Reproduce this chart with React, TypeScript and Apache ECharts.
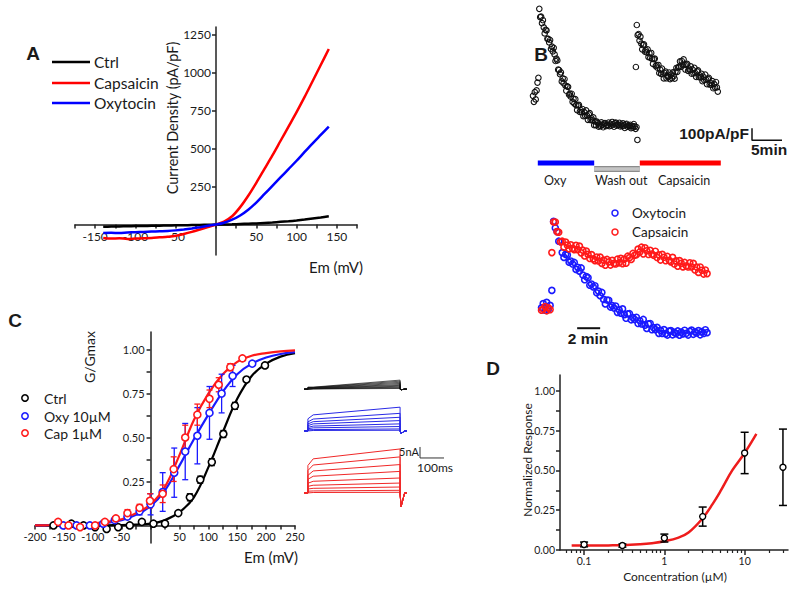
import React, { useEffect, useRef } from "react";
import * as echarts from "echarts";

// ---------------- Panel A : current density vs Em ----------------
const emA = [-140,-130,-120,-110,-100,-90,-80,-70,-60,-50,-40,-30,-20,-10,0,10,20,30,40,50,60,70,80,90,100,110,120,130,140];
const ctrlA = [-14,-13,-12,-11,-10,-9,-8,-7,-6,-5,-4,-3,-2,-1,0,1,2,4,6,8,11,14,18,22,27,33,40,47,55];
const capA = [-88,-92,-90,-94,-92,-90,-88,-84,-80,-74,-62,-48,-32,-16,0,20,55,115,190,275,365,455,550,645,740,840,945,1050,1155];
const oxyA = [-55,-54,-55,-52,-50,-48,-46,-44,-42,-38,-32,-25,-17,-8,0,12,32,60,98,145,200,255,310,365,420,478,535,590,645];
const aXTicks = [-175,-150,-125,-100,-75,-50,-25,0,25,50,75,100,125,150,175];
const aXLabels = [-150,-100,-50,50,100,150];
const aYTicks = [250,500,750,1000,1250];
const aYLabels = [250,500,750,1000,1250];

// ---------------- Panel B (top) : time course, black circles ----------------
const topT0Oxy = 0.5;
const topT0Cap = 17.65;
const topDt = 0.15;
const oxyTopV = [410,360,440,380,455,520,560,
  1135,1065,1070,1015,1040,980,930,960,955,885,885,855,875,800,820,780,810,755,700,720,705,628,625,590,605,530,555,515,550,495,452,488,485,420,428,403,427,360,385,345,382,332,291,330,335,276,290,273,300,240,274,243,288,245,210,255,265,208,222,205,230,165,197,165,195,
  183,153,173,158,188,168,148,178,183,158,168,163,187,157,177,162,192,172,152,182,187,162,172,167,185,155,170,160,180,162,142,172,177,152,162,157,168,140,160,145,175,155,135,150,
  42];
const capTopV = [650,1000,915,925,870,903,845,797,832,838,779,790,771,797,733,763,727,767,717,676,716,720,658,666,644,667,600,628,592,637,591,555,600,611,556,576,567,604,549,586,558,605,574,553,612,642,610,648,653,697,651,700,669,713,667,629,670,676,618,636,623,655,594,628,597,643,600,567,613,622,566,580,564,593,532,568,540,587,544,507,551,560,504,518,502,532,473,508,479,525,480,445];
const oxyBar = [1.3, 10.7];
const washBar = [10.7, 18.3];
const capBar = [18.3, 31.8];
const scaleTopV = [40, 140]; // 100 pA/pF
const scaleTopT = [37, 42]; // 5 min

// ---------------- Panel B (bottom) : overlay ----------------
const botT0 = 1.0;
const botDt = 0.15;
const oxyBotV = [310,345,290,355,300,330,455,
  1030,975,945,865,860,770,730,755,750,690,700,675,688,630,647,615,642,583,544,570,561,498,508,484,494,435,449,411,438,380,342,375,373,316,328,308,325,272,293,265,301,252,223,259,261,210,228,212,231,179,202,175,213,165,138,176,179,127,145,128,147,97,122,96,128,95,83,116,120,85,105,95,117,82,107,93,123,98,83,114,124,89,109,100,120,85,111,96,127,103];
const capBotV = [290,300,320,285,310,295,770,
  1025,1025,945,940,860,865,815,858,832,801,835,805,795,830,795,824,768,790,742,783,755,721,753,718,703,733,700,732,680,707,665,713,692,666,705,680,675,715,685,722,678,715,682,740,728,713,763,748,753,799,775,815,759,810,785,754,789,758,748,781,729,752,708,755,731,702,738,706,693,730,675,701,657,703,680,651,688,659,650,685,650,680,625,650,605,650,623,591,625,595];
const scaleBotT = [4.1, 6.1]; // 2 min
const scaleBotV = 140;

// ---------------- Panel C : G/Gmax ----------------
const emFit = [-200,-175,-150,-125,-100,-75,-50,-25,0,25,50,75,100,125,150,175,200,225,250];
const ctrlFit = [0,0,0,0,0,0.001,0.002,0.005,0.01,0.03,0.075,0.16,0.33,0.53,0.72,0.85,0.92,0.96,0.98];
const oxyFit = [0.0,0.001,0.002,0.004,0.008,0.015,0.03,0.06,0.11,0.2,0.34,0.49,0.63,0.76,0.86,0.92,0.955,0.975,0.985];
const capFit = [0.0,0.001,0.003,0.006,0.012,0.02,0.035,0.07,0.12,0.22,0.4,0.6,0.75,0.86,0.93,0.965,0.98,0.99,0.995];
const ctrlEm = [-168,-137,-116,-96,-76,-56,-36,-15,5,25,48,68,86,106,126,146,166,198];
const ctrlG = [0.0,0.01,0.0,-0.01,-0.02,-0.01,0.0,0.02,0.01,0.01,0.07,0.16,0.26,0.36,0.52,0.68,0.83,0.91];
const ctrlErr = [0,0,0,0,0,0,0,0,0,0,0.01,0.02,0.02,0.02,0.02,0.02,0.01,0.01];
const oxyEm = [-151,-128,-105,-82,-62,-40,-19,0,21,41,60,81,102,123,142,176];
const oxyG = [0.0,0.0,0.0,0.01,0.03,0.05,0.08,0.12,0.19,0.30,0.42,0.51,0.64,0.75,0.85,0.92];
const oxyErr = [0,0,0,0,0.01,0.01,0.02,0.06,0.11,0.14,0.16,0.16,0.15,0.11,0.06,0.01];
const capEm = [-160,-142,-122,-96,-79,-60,-40,-19,-1,21,40,60,81,102,118,138,159];
const capG = [0.02,0.0,-0.01,0.0,0.02,0.04,0.07,0.10,0.14,0.18,0.32,0.50,0.63,0.72,0.80,0.90,0.95];
const capErr = [0,0,0,0,0,0.01,0.02,0.02,0.04,0.05,0.07,0.07,0.06,0.05,0.04,0.02,0.01];
const cXTicks = [-200,-175,-150,-125,-100,-75,-50,-25,0,25,50,75,100,125,150,175,200,225,250];
const cXLabels = [-200,-150,-100,-50,50,100,150,200,250];
const cYTicks = [0.125,0.25,0.375,0.5,0.625,0.75,0.875,1.0];
const cYLabels = [0.25,0.5,0.75,1.0];

// ---------------- Panel C inset : current traces (nA vs ms) ----------------
const traceTimes = [17, 33, 55, 417, 421, 436, 445]; // pre, onset, early, end, tail, recover, post
const blackOn = [0.9,0.8,0.7,0.6,0.5,0.4,0.3,0.2,0.15,0.1];
const blackEnd = [4.1,3.6,3.1,2.6,2.1,1.7,1.3,0.9,0.6,0.3];
const blueOn = [5.5,4.1,3.2,2.4,1.6,1.0,0.5,0.15];
const blueEarly = [7.3,5.4,4.2,3.2,2.2,1.4,0.6,0.2];
const blueEnd = [10.8,8.0,6.2,4.7,3.2,2.0,0.9,0.3];
const redOn = [12.5,10.2,8.0,6.2,4.4,3.0,1.8,0.8,0.2];
const redEarly = [15.5,12.7,10.0,7.6,5.3,3.5,2.1,0.9,0.2];
const redEnd = [20,16.4,12.9,9.8,6.8,4.5,2.7,1.2,0.3];
const tailAmp = [0.3, 1.2, 6.3]; // black, blue, red
const scaleTrT = [500, 600]; // 100 ms
const scaleTrI = [28.2, 33.2]; // 5 nA

// ---------------- Panel D : dose response ----------------
const concD = [0.1, 0.3, 1, 3, 10, 30];
const respD = [0.035, 0.028, 0.075, 0.21, 0.61, 0.52];
const errD = [0.015, 0.01, 0.025, 0.06, 0.13, 0.24];
const fitConc = [0.07,0.1,0.2,0.3,0.5,0.7,1,1.5,2,3,4,5,7,10,14];
const fitResp = [0.028,0.028,0.029,0.03,0.036,0.043,0.055,0.078,0.11,0.2,0.29,0.37,0.5,0.61,0.73];
const dMajorConc = [0.1, 1, 10];
const dMajorText = ["0.1", "1", "10"];
const dMinorConc = [0.06,0.07,0.08,0.09,0.2,0.3,0.4,0.5,0.6,0.7,0.8,0.9,2,3,4,5,6,7,8,9,20,30];
const dYTicks = [0,0.125,0.25,0.375,0.5,0.625,0.75,0.875,1.0];
const dYLabels = [0,0.25,0.5,0.75,1.0];

// ---------------- styling ----------------
const FONT = "Lato, 'Open Sans', sans-serif";
const BOLD = "'Liberation Sans', Arial, sans-serif";
const INK = "#1a1a1a";
const BLUE = "#1a1aff";
const RED = "#ff1a1a";
const axLine = { color: "#222", width: 1.5 };

// grid geometry (pixels) for the panels
const GA = { left: 75, top: 27, width: 282, height: 228 };
const GC = { left: 35, top: 332, width: 260, height: 211 };

function lab(size: number, extra: any = {}) {
  return { color: INK, fontFamily: FONT, fontSize: size, ...extra };
}

function txt(x: number, y: number, text: string, size: number, o: any = {}) {
  const align = o.align || "left";
  return {
    type: "text",
    x,
    y,
    rotation: o.rot || 0,
    z: 100,
    style: {
      text,
      fill: o.color || INK,
      fontSize: size,
      fontFamily: o.family || FONT,
      fontWeight: o.weight || "normal",
      textAlign: align,
      align,
      textVerticalAlign: "middle",
      verticalAlign: "middle",
    },
  };
}

function errBars(xi: number, yi: number, data: number[][], color: string, capW: number, lw: number) {
  return {
    type: "custom",
    xAxisIndex: xi,
    yAxisIndex: yi,
    coordinateSystem: "cartesian2d",
    data,
    encode: { x: 0, y: [1, 2] },
    z: 3,
    renderItem: (params: any, api: any) => {
      const x = api.value(0);
      const lo = api.coord([x, api.value(1)]);
      const hi = api.coord([x, api.value(2)]);
      const st = { stroke: color, lineWidth: lw };
      return {
        type: "group",
        children: [
          { type: "line", shape: { x1: lo[0], y1: lo[1], x2: hi[0], y2: hi[1] }, style: st },
          { type: "line", shape: { x1: lo[0] - capW, y1: lo[1], x2: lo[0] + capW, y2: lo[1] }, style: st },
          { type: "line", shape: { x1: hi[0] - capW, y1: hi[1], x2: hi[0] + capW, y2: hi[1] }, style: st },
        ],
      };
    },
  };
}

function pairs(xs: number[], ys: number[]) {
  return xs.map((x, i) => [x, ys[i]]);
}

function seq(t0: number, dt: number, vs: number[]) {
  return vs.map((v, i) => [t0 + i * dt, v]);
}

function lineS(xi: number, yi: number, data: any[], color: string, width: number, smooth: any = false, z = 2) {
  return {
    type: "line",
    xAxisIndex: xi,
    yAxisIndex: yi,
    data,
    symbol: "none",
    showSymbol: false,
    smooth,
    z,
    lineStyle: { color, width },
  };
}

function scat(xi: number, yi: number, data: any[], color: string, size: number, fill: string, bw: number, z = 4) {
  return {
    type: "scatter",
    xAxisIndex: xi,
    yAxisIndex: yi,
    data,
    symbol: "circle",
    symbolSize: size,
    z,
    itemStyle: { color: fill, borderColor: color, borderWidth: bw, opacity: 1 },
  };
}

function traceFamily(on: number[], early: number[], end: number[], base: number, tail: number, color: string, w: number) {
  const [tPre, tOn, tEarly, tEnd, tTail, tRec, tPost] = traceTimes;
  return end.map((e, i) =>
    lineS(4, 4, [
      [tPre, base], [tOn, base], [tOn, base + on[i]], [tEarly, base + early[i]],
      [tEnd, base + e], [tEnd, base], [tTail, base - tail], [tRec, base], [tPost, base],
    ], color, w, false, 2)
  );
}

function hidden(grid: number, min: number, max: number) {
  return { gridIndex: grid, type: "value", min, max, show: false, splitLine: { show: false } };
}

// offset that moves an edge axis onto the other axis' zero
function zeroOffsetX(g: any, min: number, max: number) {
  return -(g.width * (0 - min)) / (max - min);
}
function zeroOffsetY(g: any, min: number, max: number) {
  return -(g.height * (0 - min)) / (max - min);
}

function buildOption() {
  const log = (v: number) => Math.log10(v);
  const series: any[] = [];

  // A
  series.push(lineS(0, 0, pairs(emA, ctrlA), "#000", 2.5, 0.3));
  series.push(lineS(0, 0, pairs(emA, capA), "#ff0000", 2.5, 0.3));
  series.push(lineS(0, 0, pairs(emA, oxyA), "#0000ff", 2.5, 0.3));

  // B top
  series.push(scat(1, 1, seq(topT0Oxy, topDt, oxyTopV), "#111", 5.5, "rgba(255,255,255,0)", 1.1));
  series.push(scat(1, 1, seq(topT0Cap, topDt, capTopV), "#111", 5.5, "rgba(255,255,255,0)", 1.1));
  series.push(lineS(1, 1, [[scaleTopT[0], scaleTopV[1]], [scaleTopT[0], scaleTopV[0]], [scaleTopT[1], scaleTopV[0]]], "#111", 1.5));
  series.push(lineS(1, 1, [[oxyBar[0], -150], [oxyBar[1], -150]], "#0000ff", 5));
  series.push(lineS(1, 1, [[washBar[0], -200], [washBar[1], -200]], "#8c8c8c", 6));
  series.push(lineS(1, 1, [[washBar[0], -200], [washBar[1], -200]], "#c4c4c4", 3.5));
  series.push(lineS(1, 1, [[capBar[0], -150], [capBar[1], -150]], "#ff0000", 5));

  // B bottom
  series.push(scat(2, 2, seq(botT0, botDt, oxyBotV), BLUE, 6, "rgba(255,255,255,0)", 1.6));
  series.push(scat(2, 2, seq(botT0, botDt, capBotV), RED, 6, "rgba(255,255,255,0)", 1.6));
  series.push(lineS(2, 2, [[scaleBotT[0], scaleBotV], [scaleBotT[1], scaleBotV]], "#111", 2));

  // C fits
  series.push(lineS(3, 3, pairs(emFit, ctrlFit), "#000", 2.2, 0.4));
  series.push(lineS(3, 3, pairs(emFit, oxyFit), BLUE, 2.2, 0.4));
  series.push(lineS(3, 3, pairs(emFit, capFit), RED, 2.2, 0.4));
  const eb = (xs: number[], ys: number[], es: number[]) =>
    xs.map((x, i) => [x, ys[i] - es[i], ys[i] + es[i]]).filter((d) => d[2] - d[1] > 0.001);
  series.push(errBars(3, 3, eb(ctrlEm, ctrlG, ctrlErr), "#000", 3, 1.3));
  series.push(errBars(3, 3, eb(oxyEm, oxyG, oxyErr), BLUE, 3, 1.3));
  series.push(errBars(3, 3, eb(capEm, capG, capErr), RED, 3, 1.3));
  series.push(scat(3, 3, pairs(ctrlEm, ctrlG), "#000", 7, "#fff", 1.6));
  series.push(scat(3, 3, pairs(oxyEm, oxyG), BLUE, 7, "#fff", 1.6));
  series.push(scat(3, 3, pairs(capEm, capG), RED, 7, "#fff", 1.6));

  // C inset traces
  series.push(...traceFamily(blackOn, blackOn, blackEnd, 59.5, tailAmp[0], "#111", 0.7));
  series.push(...traceFamily(blueOn, blueEarly, blueEnd, 40.5, tailAmp[1], "#2a2ae6", 1));
  series.push(...traceFamily(redOn, redEarly, redEnd, 12.3, tailAmp[2], "#f02828", 1));
  series.push(lineS(4, 4, [[scaleTrT[0], scaleTrI[1]], [scaleTrT[0], scaleTrI[0]], [scaleTrT[1], scaleTrI[0]]], "#333", 1));

  // D
  series.push(lineS(5, 5, fitConc.map((c, i) => [log(c), fitResp[i]]), "#ee1c1c", 2.5, 0.4));
  series.push(errBars(5, 5, concD.map((c, i) => [log(c), respD[i] - errD[i], respD[i] + errD[i]]), "#000", 4, 1.5));
  series.push(scat(5, 5, concD.map((c, i) => [log(c), respD[i]]), "#000", 6, "#fff", 1.4));

  const graphic: any[] = [
    // panel letters
    txt(33, 53, "A", 19, { family: BOLD, weight: "bold", align: "center" }),
    txt(541, 54, "B", 19, { family: BOLD, weight: "bold", align: "center" }),
    txt(15, 320, "C", 19, { family: BOLD, weight: "bold", align: "center" }),
    txt(493, 368, "D", 19, { family: BOLD, weight: "bold", align: "center" }),
    // A legend
    { type: "line", z: 100, shape: { x1: 52, y1: 62, x2: 90, y2: 62 }, style: { stroke: "#000", lineWidth: 2.5 } },
    { type: "line", z: 100, shape: { x1: 52, y1: 83, x2: 90, y2: 83 }, style: { stroke: "#ff0000", lineWidth: 2.5 } },
    { type: "line", z: 100, shape: { x1: 52, y1: 103, x2: 90, y2: 103 }, style: { stroke: "#0000ff", lineWidth: 2.5 } },
    txt(94, 62, "Ctrl", 15.5),
    txt(94, 83, "Capsaicin", 15.5),
    txt(94, 103, "Oxytocin", 15.5),
    txt(172, 118, "Current Density (pA/pF)", 14.5, { rot: Math.PI / 2, align: "center" }),
    txt(336, 267, "Em (mV)", 15, { align: "center" }),
    // B top
    txt(749, 133, "100pA/pF", 15.5, { family: BOLD, weight: "bold", align: "right" }),
    txt(751, 149, "5min", 15.5, { family: BOLD, weight: "bold" }),
    txt(544, 180, "Oxy", 12.5),
    txt(595, 180, "Wash out", 12.5),
    txt(658, 180, "Capsaicin", 12.5),
    // B bottom legend
    { type: "circle", z: 100, shape: { cx: 615, cy: 213, r: 3 }, style: { fill: "#fff", stroke: BLUE, lineWidth: 1.5 } },
    { type: "circle", z: 100, shape: { cx: 615, cy: 232, r: 3 }, style: { fill: "#fff", stroke: RED, lineWidth: 1.5 } },
    txt(632, 213, "Oxytocin", 13.5),
    txt(632, 232, "Capsaicin", 13.5),
    txt(588, 338, "2 min", 15.5, { family: BOLD, weight: "bold", align: "center" }),
    // C legend & names
    { type: "circle", z: 100, shape: { cx: 25, cy: 398, r: 3.2 }, style: { fill: "#fff", stroke: "#000", lineWidth: 1.5 } },
    { type: "circle", z: 100, shape: { cx: 25, cy: 416, r: 3.2 }, style: { fill: "#fff", stroke: BLUE, lineWidth: 1.5 } },
    { type: "circle", z: 100, shape: { cx: 25, cy: 433, r: 3.2 }, style: { fill: "#fff", stroke: RED, lineWidth: 1.5 } },
    txt(44, 398, "Ctrl", 14),
    txt(44, 416, "Oxy 10µM", 14),
    txt(44, 433, "Cap 1µM", 14),
    txt(89, 357, "G/Gmax", 14, { rot: Math.PI / 2, align: "center" }),
    txt(271, 557, "Em (mV)", 15, { align: "center" }),
    txt(419, 451, "5nA", 11, { align: "right" }),
    txt(417, 467, "100ms", 12),
    // D names
    txt(527, 460, "Normalized Response", 12, { rot: Math.PI / 2, align: "center" }),
    txt(675, 576, "Concentration (µM)", 12, { align: "center" }),
  ];

  const plain = (v: number) => String(v);

  return {
    animation: false,
    backgroundColor: "#fff",
    grid: [
      GA,
      { left: 530, top: 1, width: 270, height: 186 },
      { left: 530, top: 201, width: 230, height: 156 },
      GC,
      { left: 300, top: 370, width: 150, height: 150 },
      { left: 560, top: 375, width: 228, height: 175 },
    ],
    xAxis: [
      {
        gridIndex: 0, type: "value", min: -175, max: 175, position: "bottom",
        offset: zeroOffsetY(GA, -200, 1300),
        axisLine: { onZero: false, lineStyle: axLine },
        axisTick: { show: true, customValues: aXTicks, length: 4, lineStyle: axLine },
        axisLabel: { customValues: aXLabels, margin: 6, ...lab(12), formatter: plain },
        splitLine: { show: false },
      },
      hidden(1, 0, 45),
      hidden(2, 0, 20),
      {
        gridIndex: 3, type: "value", min: -200, max: 250, position: "bottom",
        offset: zeroOffsetY(GC, -0.1, 1.1),
        axisLine: { onZero: false, lineStyle: axLine },
        axisTick: { show: true, customValues: cXTicks, length: 4, lineStyle: axLine },
        axisLabel: { customValues: cXLabels, margin: 6, ...lab(11), formatter: plain },
        splitLine: { show: false },
      },
      hidden(4, 0, 625),
      {
        gridIndex: 5, type: "value", position: "bottom", min: -1.3, max: 1.54,
        axisLine: { onZero: false, lineStyle: axLine },
        axisTick: { show: true, customValues: dMajorConc.map(log), length: 5, lineStyle: axLine },
        axisLabel: {
          customValues: dMajorConc.map(log), margin: 5, ...lab(10.5),
          formatter: (v: number) => {
            const i = dMajorConc.findIndex((c) => Math.abs(log(c) - v) < 1e-6);
            return i >= 0 ? dMajorText[i] : "";
          },
        },
        splitLine: { show: false },
      },
      {
        gridIndex: 5, type: "value", position: "bottom", min: -1.3, max: 1.54,
        axisLine: { show: false, onZero: false },
        axisTick: { show: true, customValues: dMinorConc.map(log), length: 3, lineStyle: { color: "#222", width: 1.2 } },
        axisLabel: { show: false },
        splitLine: { show: false },
      },
    ],
    yAxis: [
      {
        gridIndex: 0, type: "value", min: -200, max: 1300, position: "left",
        offset: zeroOffsetX(GA, -175, 175),
        axisLine: { onZero: false, lineStyle: axLine },
        axisTick: { show: true, customValues: aYTicks, length: 4, lineStyle: axLine },
        axisLabel: { customValues: aYLabels, margin: 5, ...lab(12), formatter: plain },
        splitLine: { show: false },
      },
      hidden(1, -350, 1200),
      hidden(2, -100, 1200),
      {
        gridIndex: 3, type: "value", min: -0.1, max: 1.1, position: "left",
        offset: zeroOffsetX(GC, -200, 250),
        axisLine: { onZero: false, lineStyle: axLine },
        axisTick: { show: true, customValues: cYTicks, length: 4, lineStyle: axLine },
        axisLabel: { customValues: cYLabels, margin: 6, ...lab(11), formatter: (v: number) => v.toFixed(2) },
        splitLine: { show: false },
      },
      hidden(4, 0, 68.2),
      {
        gridIndex: 5, type: "value", min: 0, max: 1.1,
        axisLine: { onZero: false, lineStyle: axLine },
        axisTick: { show: true, customValues: dYTicks, length: 4, lineStyle: axLine },
        axisLabel: { customValues: dYLabels, margin: 5, ...lab(10.5), formatter: (v: number) => v.toFixed(2) },
        splitLine: { show: false },
      },
    ],
    series,
    graphic,
  };
}

export default function App() {
  const ref = useRef<HTMLDivElement>(null);
  useEffect(() => {
    if (!ref.current) return;
    const chart = echarts.init(ref.current, null, { renderer: "svg" });
    chart.setOption(buildOption() as any);
    return () => chart.dispose();
  }, []);
  return (
    <div
      ref={ref}
      style={{ position: "fixed", left: 0, top: 0, width: 800, height: 592, background: "#fff" }}
    />
  );
}
